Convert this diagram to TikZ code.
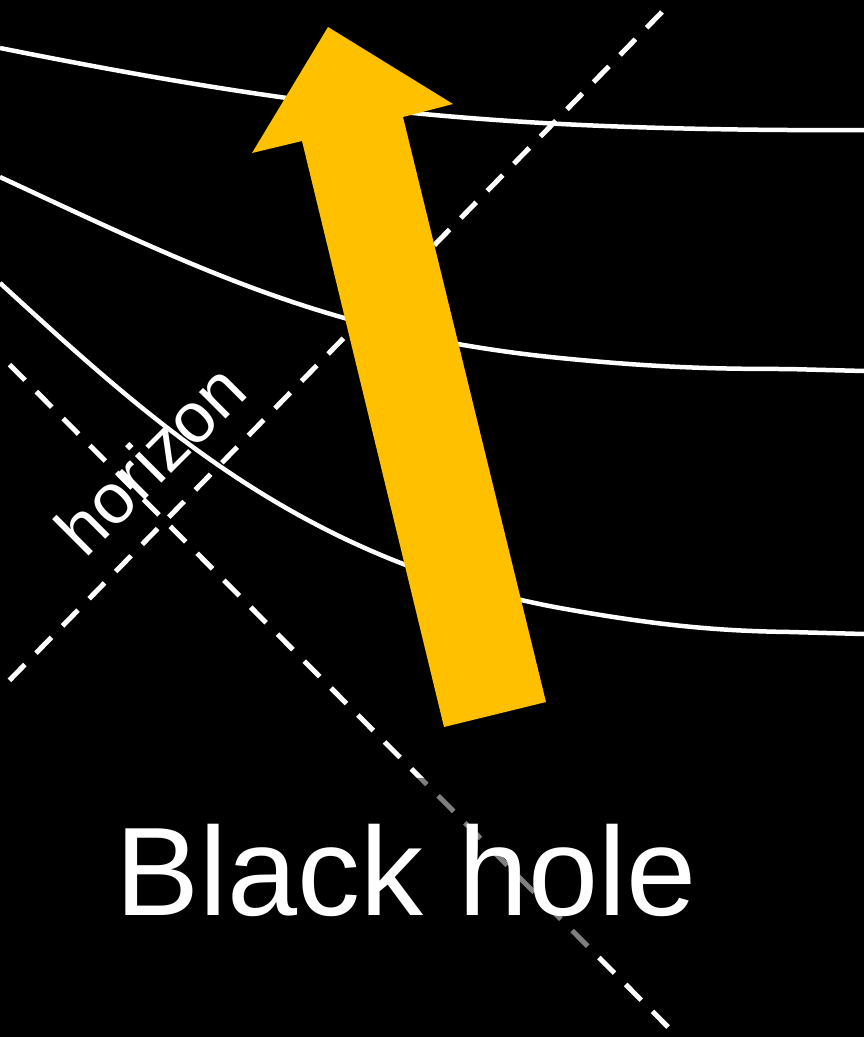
\documentclass[tikz,border=0pt]{standalone}
\usepackage{fontspec}
\setmainfont{Liberation Sans}
\usetikzlibrary{positioning}
\definecolor{bhgold}{HTML}{FFC000}
\tikzset{
  wline/.style={draw=white, line width=4.5pt},
  hline/.style={draw=white, line width=5pt, dash pattern=on 22pt off 16pt},
  fall/.style={fill=bhgold},
  lbl/.style={text=white, inner sep=0pt},
}

\begin{document}
\begin{tikzpicture}[x=1pt,y=-1pt]
  \fill[black] (0,0) rectangle (864,1037);
  \useasboundingbox (0,0) rectangle (864,1037);
  % light rays bending toward the hole
  \draw[wline] (0,48) .. controls (300,108) and (480,128) .. (788,130) -- (864,130);
  \draw[wline] (0,177) .. controls (200,270) and (330,335) .. (560,358)
    .. controls (660,368) and (720,369) .. (788,369) -- (864,371);
  \draw[wline] (0,283) .. controls (150,420) and (300,560) .. (560,608)
    .. controls (660,626) and (720,631) .. (790,632) -- (864,634);
  % horizons
  \draw[hline] (662,12) -- (0,690);
  \draw[hline] (668,1027) -- (0,355);
  % infalling arrow
  \fill[fall] (328,27) -- (453,104) -- (403,117) -- (546,702) -- (444,727) -- (302,141) -- (252,153) -- cycle;
  \node[lbl, rotate=45, font=\fontsize{71}{71}\selectfont] (hzn) at (150,459) {horizon};
  \node[lbl, anchor=base, fill=black, fill opacity=0.5, text opacity=1, inner xsep=15pt,
        text height=137pt, text depth=38pt, font=\fontsize{126}{126}\selectfont] (bh) at (406,915) {Black hole};
\end{tikzpicture}
\end{document}
